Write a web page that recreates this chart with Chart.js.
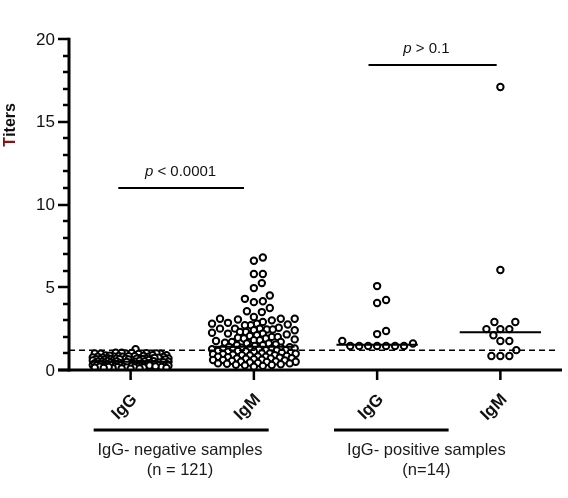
<!DOCTYPE html>
<html><head><meta charset="utf-8">
<script src="https://cdn.jsdelivr.net/npm/chart.js@4"></script>
<style>html,body{margin:0;padding:0;background:#fff}</style>
</head><body>
<canvas id="c" width="568" height="498"></canvas>
<script>
// ---------------- data ----------------
const categories = ['IgG', 'IgM', 'IgG', 'IgM'];
const groupLabels = [['IgG- negative samples', '(n = 121)'], ['IgG- positive samples', '(n=14)']];
const yTicks = [0, 5, 10, 15, 20];
const yTitle = 'Titers';
const cutoff = 1.2;
const pTexts = [['p', ' < 0.0001'], ['p', ' > 0.1']];
const pLevels = [11.0, 18.4];

const negIgG = [
  1.25,
  1.05, 1.02, 1.0, 1.0, 0.98, 1.05, 0.97, 1.0, 1.03, 0.99,
  0.9, 0.88, 0.85, 0.85, 0.82, 0.8, 0.8, 0.78, 0.9, 0.87, 0.84, 0.8, 0.76, 0.83, 0.79,
  0.75, 0.72, 0.7, 0.7, 0.68, 0.66, 0.65, 0.65, 0.63, 0.6, 0.6, 0.62, 0.74, 0.71, 0.69, 0.67, 0.64, 0.61, 0.73, 0.7, 0.66, 0.62, 0.6, 0.68, 0.64,
  0.55, 0.52, 0.5, 0.5, 0.5, 0.5, 0.53, 0.56, 0.58, 0.51,
  0.45, 0.44, 0.42, 0.4, 0.4, 0.4, 0.38, 0.36, 0.35, 0.35, 0.33, 0.32, 0.3, 0.3, 0.3, 0.46, 0.43, 0.41, 0.39, 0.37, 0.34, 0.31, 0.3, 0.48, 0.47, 0.42, 0.38, 0.36, 0.33, 0.31,
  0.28, 0.27, 0.25, 0.25, 0.24, 0.22, 0.2, 0.2, 0.2, 0.18, 0.17, 0.15, 0.15, 0.14, 0.12, 0.1, 0.1, 0.08, 0.26, 0.23, 0.21, 0.19, 0.16, 0.13, 0.11, 0.09, 0.27, 0.22, 0.18, 0.12
];
const negIgM = [
  6.8, 6.6, 5.8, 5.8, 5.25, 4.95, 4.5, 4.3, 4.15, 4.1, 3.75, 3.55, 3.5,
  3.2, 3.1, 3.1, 3.1, 3.05, 3.0,
  2.9, 2.8, 2.8, 2.75, 2.7, 2.7, 2.85,
  2.55, 2.5, 2.5, 2.45, 2.45, 2.4, 2.5, 2.4,
  2.3, 2.25, 2.2, 2.2, 2.15, 2.1, 2.05, 2.0, 2.0, 2.3,
  1.95, 1.9, 1.9, 1.85, 1.8, 1.8, 1.75, 1.7, 1.7, 1.65, 1.6, 1.6, 1.55, 1.5, 1.5, 1.45,
  1.4,
  1.38, 1.35, 1.35, 1.32, 1.3, 1.3, 1.28, 1.25, 1.25, 1.22, 1.2, 1.2, 1.18, 1.15, 1.15,
  1.12, 1.1, 1.1, 1.05, 1.05, 1.0, 1.0, 0.98, 0.95, 0.95, 0.92, 0.9, 0.9, 0.88, 0.85,
  0.82, 0.8, 0.8, 0.78, 0.75, 0.72, 0.7, 0.7, 0.68, 0.65, 0.62, 0.6, 0.6, 0.58, 0.55,
  0.52, 0.5, 0.5, 0.48, 0.45, 0.42, 0.4, 0.4, 0.38, 0.35, 0.32, 0.3, 0.28, 0.25, 0.2
];
const posIgG = [5.07, 4.23, 4.05, 2.36, 2.17, 1.75, 1.6, 1.45, 1.45, 1.45, 1.45, 1.45, 1.45, 1.45];
const posIgM = [17.1, 6.04, 2.9, 2.9, 2.47, 2.47, 2.47, 2.1, 1.75, 1.75, 1.2, 0.85, 0.85, 0.85];

// ---------------- layout helpers ----------------
const FONT = "Arial, 'Liberation Sans', sans-serif";
const PAD = {left: 69, right: 4, top: 39, bottom: 128};
const W = 568, H = 498;
const PXU = (W - PAD.left - PAD.right) / 4;   // px per x unit
const PYU = (H - PAD.top - PAD.bottom) / 20;  // px per y unit

function median(a) {
  const s = [...a].sort((p, q) => p - q);
  const m = s.length >> 1;
  return s.length % 2 ? s[m] : (s[m - 1] + s[m]) / 2;
}

// deterministic beeswarm layout (x offsets computed from the y values);
// when a row is crowded, points are allowed to overlap, keeping them near the centre
function swarm(values, center, D, maxW) {
  const order = values.map((v, i) => i).sort((a, b) => values[a] - values[b]);
  const placed = [];
  const out = new Array(values.length);
  const cands = [0];
  for (let k = 1; k <= maxW; k++) cands.push(k, -k);
  for (const i of order) {
    const yy = values[i] * PYU;
    const near = placed.filter(p => Math.abs(p.y - yy) < D);
    const score = s => {
      let md = Infinity;
      for (const p of near) { const d = Math.hypot(s - p.x, yy - p.y); if (d < md) md = d; }
      return md;
    };
    let best = null;
    for (const s of cands) if (score(s) >= D) { best = s; break; }
    if (best === null) for (const s of cands) if (score(s) >= D * 0.6) { best = s; break; }
    if (best === null) {
      let bs = -1;
      for (const s of cands) { const sc = score(s); if (sc > bs) { bs = sc; best = s; } }
    }
    placed.push({x: best, y: yy});
    out[i] = {x: center + best / PXU, y: values[i]};
  }
  return out;
}

const groups = [negIgG, negIgM, posIgG, posIgM];
const widths = [38, 42, 40, 40];
const pointSets = groups.map((g, i) => swarm(g, i + 1, 9, widths[i]));
const MED_HALF = 0.33;

const datasets = [];
groups.forEach((g, i) => {
  const m = median(g);
  datasets.push({
    type: 'line', data: [{x: i + 1 - MED_HALF, y: m}, {x: i + 1 + MED_HALF, y: m}],
    borderColor: '#000', borderWidth: 2, pointRadius: 0, order: 0, fill: false
  });
});
datasets.push({
  type: 'line', data: [{x: 0.5, y: cutoff}, {x: 4.45, y: cutoff}],
  borderColor: '#000', borderWidth: 1.5, borderDash: [6, 4], pointRadius: 0, order: 1, fill: false
});
pointSets.forEach(ps => {
  datasets.push({
    type: 'scatter', data: ps, pointStyle: 'circle', pointRadius: 3.2, borderWidth: 2,
    borderColor: '#000', backgroundColor: '#fff', order: 2
  });
});

function seg(ctx, x1, y1, x2, y2) { ctx.beginPath(); ctx.moveTo(x1, y1); ctx.lineTo(x2, y2); ctx.stroke(); }

const deco = {
  id: 'deco',
  afterDraw(chart) {
    const {ctx, chartArea: a, scales: {x, y}} = chart;
    ctx.save();
    ctx.strokeStyle = '#000'; ctx.fillStyle = '#000'; ctx.lineCap = 'butt';
    // axes
    ctx.lineWidth = 3;
    seg(ctx, a.left, y.getPixelForValue(20) - 1.25, a.left, a.bottom + 1.5);
    seg(ctx, a.left - 11, a.bottom, a.right, a.bottom);
    // y ticks
    ctx.lineWidth = 2.5;
    for (let v = 0; v <= 20; v++) {
      const py = Math.round(y.getPixelForValue(v));
      const len = v % 5 === 0 ? 11 : 6;
      seg(ctx, a.left - len, py, a.left, py);
    }
    ctx.font = '17px ' + FONT; ctx.textAlign = 'right'; ctx.textBaseline = 'middle';
    ctx.fillStyle = '#111';
    yTicks.forEach(v => ctx.fillText(String(v), a.left - 14, y.getPixelForValue(v) + 1));
    // y title with dark red initial
    ctx.save();
    ctx.translate(14.5, 125); ctx.rotate(-Math.PI / 2);
    ctx.font = 'bold 16px ' + FONT; ctx.textBaseline = 'alphabetic'; ctx.textAlign = 'left';
    const tw = ctx.measureText(yTitle).width;
    const t0 = yTitle[0], rest = yTitle.slice(1);
    ctx.fillStyle = '#8b1010'; ctx.fillText(t0, -tw / 2, 0);
    ctx.fillStyle = '#111'; ctx.fillText(rest, -tw / 2 + ctx.measureText(t0).width, 0);
    ctx.restore();
    // x ticks and labels
    ctx.lineWidth = 2.5; ctx.strokeStyle = '#000';
    categories.forEach((c, i) => {
      const px = x.getPixelForValue(i + 1);
      seg(ctx, px, a.bottom, px, a.bottom + 10);
      ctx.save();
      ctx.translate(px + 4, a.bottom + 27); ctx.rotate(-Math.PI / 4);
      ctx.font = 'bold 17px ' + FONT; ctx.textAlign = 'right'; ctx.textBaseline = 'middle';
      ctx.fillStyle = '#111';
      ctx.fillText(c, 0, 0);
      ctx.restore();
    });
    // group brackets
    const spans = [[0.7, 2.12, 1.4], [2.65, 3.58, 3.4]];
    ctx.lineWidth = 3;
    spans.forEach((s, i) => {
      seg(ctx, x.getPixelForValue(s[0]), a.bottom + 60, x.getPixelForValue(s[1]), a.bottom + 60);
      ctx.font = '16.5px ' + FONT; ctx.textAlign = 'center'; ctx.textBaseline = 'middle';
      ctx.fillStyle = '#1a1a1a';
      ctx.fillText(groupLabels[i][0], x.getPixelForValue(s[2]), a.bottom + 80);
      ctx.fillText(groupLabels[i][1], x.getPixelForValue(s[2]), a.bottom + 100);
    });
    // p-value brackets
    const pSpans = [[0.9, 1.92, 1.405], [2.93, 3.97, 3.4]];
    ctx.lineWidth = 2;
    pSpans.forEach((s, i) => {
      const py = Math.round(y.getPixelForValue(pLevels[i]));
      seg(ctx, x.getPixelForValue(s[0]), py, x.getPixelForValue(s[1]), py);
      ctx.textBaseline = 'middle'; ctx.textAlign = 'left'; ctx.fillStyle = '#111';
      ctx.font = 'italic 15px ' + FONT; const w1 = ctx.measureText(pTexts[i][0]).width;
      ctx.font = '15px ' + FONT; const w2 = ctx.measureText(pTexts[i][1]).width;
      const sx = x.getPixelForValue(s[2]) - (w1 + w2) / 2;
      ctx.font = 'italic 15px ' + FONT; ctx.fillText(pTexts[i][0], sx, py - 16);
      ctx.font = '15px ' + FONT; ctx.fillText(pTexts[i][1], sx + w1, py - 16);
    });
    ctx.restore();
  }
};

new Chart(document.getElementById('c'), {
  type: 'scatter',
  data: {datasets},
  options: {
    responsive: false, animation: false, devicePixelRatio: 1,
    layout: {padding: PAD},
    plugins: {legend: {display: false}, tooltip: {enabled: false}},
    scales: {
      x: {type: 'linear', min: 0.5, max: 4.5, display: false},
      y: {type: 'linear', min: 0, max: 20, display: false}
    }
  },
  plugins: [deco]
});
</script>
</body></html>
